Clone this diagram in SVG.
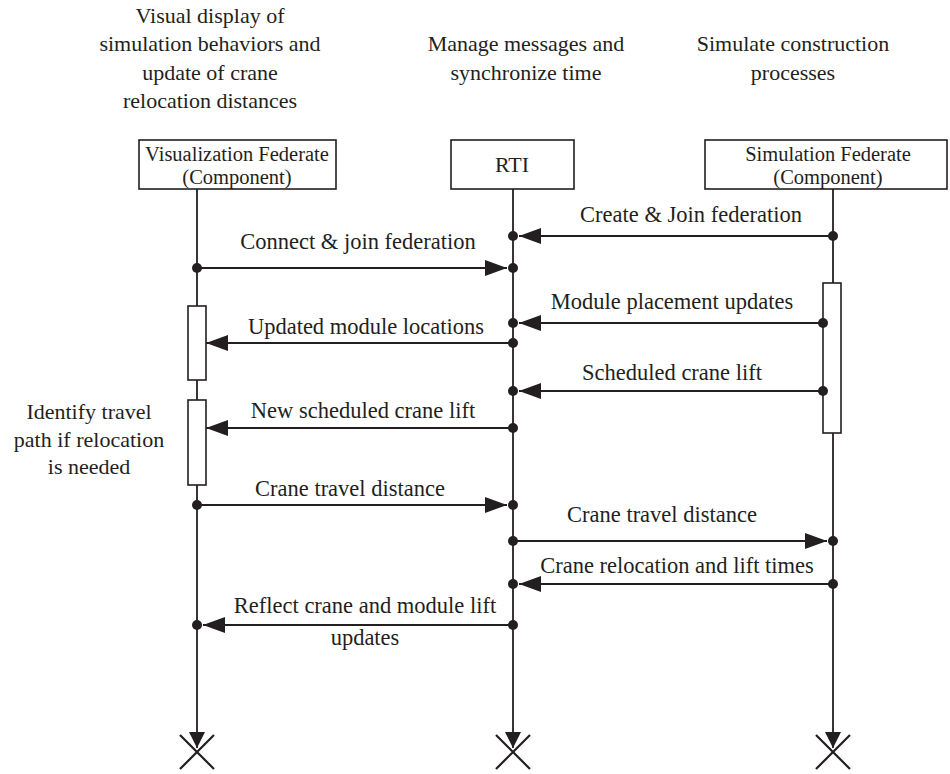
<svg xmlns="http://www.w3.org/2000/svg" width="950" height="774" viewBox="0 0 950 774">
  <style>
    text { font-family: "Liberation Serif", "Times New Roman", serif; font-size: 22px; fill: #231f20; text-anchor: middle; }
    .lbl { font-size: 22.5px; }
    .boxtxt { font-size: 20.5px; }
    .box { fill: #ffffff; stroke: #231f20; stroke-width: 1.6; }
    .life { stroke: #231f20; stroke-width: 1.8; fill: none; }
    .msg { stroke: #231f20; stroke-width: 1.8; fill: none; marker-end: url(#arrow); }
    .dot { fill: #231f20; }
    .end { stroke: #231f20; stroke-width: 2.2; fill: none; }
  </style>
  <defs>
    <marker id="arrow" markerUnits="userSpaceOnUse" markerWidth="22" markerHeight="16" refX="22" refY="8" orient="auto">
      <path d="M0,0 L22,8 L0,16 z" fill="#231f20"/>
    </marker>
    <marker id="endArrow" markerUnits="userSpaceOnUse" markerWidth="16" markerHeight="16" refX="16" refY="8" orient="auto">
      <path d="M0,0 L16,8 L0,16 z" fill="#231f20"/>
    </marker>
  </defs>

  <rect width="950" height="774" fill="#ffffff"/>

  <!-- role descriptions above each participant -->
  <g id="role-labels">
    <text x="210" y="23">Visual display of</text>
    <text x="210" y="51">simulation behaviors and</text>
    <text x="210" y="80">update of crane</text>
    <text x="210" y="108">relocation distances</text>
    <text x="526" y="51">Manage messages and</text>
    <text x="526" y="80">synchronize time</text>
    <text x="793" y="51">Simulate construction</text>
    <text x="793" y="80">processes</text>
  </g>

  <!-- lifelines with terminating arrow and cross -->
  <g id="lifelines">
    <line class="life" x1="197" y1="189" x2="197" y2="748" marker-end="url(#endArrow)"/>
    <line class="life" x1="513" y1="189" x2="513" y2="748" marker-end="url(#endArrow)"/>
    <line class="life" x1="833" y1="189" x2="833" y2="748" marker-end="url(#endArrow)"/>
    <path class="end" d="M180,735 L214,769 M214,735 L180,769"/>
    <path class="end" d="M496,735 L530,769 M530,735 L496,769"/>
    <path class="end" d="M816,735 L850,769 M850,735 L816,769"/>
  </g>

  <g id="visualization-federate">
    <rect class="box" x="139" y="140" width="197" height="49"/>
    <text class="boxtxt" x="237" y="161">Visualization Federate</text>
    <text class="boxtxt" x="237" y="184">(Component)</text>
    <rect class="box" x="188" y="306" width="18" height="74"/>
    <rect class="box" x="188" y="400" width="18" height="85"/>
  </g>

  <g id="rti">
    <rect class="box" x="451" y="140" width="123" height="49"/>
    <text x="512" y="172">RTI</text>
  </g>

  <g id="simulation-federate">
    <rect class="box" x="705" y="140" width="242" height="49"/>
    <text class="boxtxt" x="828" y="161">Simulation Federate</text>
    <text class="boxtxt" x="828" y="184">(Component)</text>
    <rect class="box" x="823" y="283" width="18" height="150"/>
  </g>

  <g id="activity-note">
    <text x="89" y="419">Identify travel</text>
    <text x="89" y="447">path if relocation</text>
    <text x="89" y="474">is needed</text>
  </g>

  <!-- messages -->
  <g id="connectors">
    <line class="msg" x1="833" y1="236" x2="519" y2="236"/>
    <line class="msg" x1="197" y1="268" x2="507" y2="268"/>
    <line class="msg" x1="823" y1="323" x2="519" y2="323"/>
    <line class="msg" x1="513" y1="343" x2="206" y2="343"/>
    <line class="msg" x1="823" y1="391" x2="519" y2="391"/>
    <line class="msg" x1="513" y1="428" x2="206" y2="428"/>
    <line class="msg" x1="197" y1="505" x2="507" y2="505"/>
    <line class="msg" x1="513" y1="541" x2="827" y2="541"/>
    <line class="msg" x1="833" y1="584" x2="519" y2="584"/>
    <line class="msg" x1="513" y1="625" x2="203" y2="625"/>

    <circle class="dot" cx="833" cy="236" r="5"/>
    <circle class="dot" cx="513" cy="236" r="5"/>
    <circle class="dot" cx="197" cy="268" r="5"/>
    <circle class="dot" cx="513" cy="268" r="5"/>
    <circle class="dot" cx="823" cy="323" r="5"/>
    <circle class="dot" cx="513" cy="323" r="5"/>
    <circle class="dot" cx="513" cy="343" r="5"/>
    <circle class="dot" cx="823" cy="391" r="5"/>
    <circle class="dot" cx="513" cy="391" r="5"/>
    <circle class="dot" cx="513" cy="428" r="5"/>
    <circle class="dot" cx="197" cy="505" r="5"/>
    <circle class="dot" cx="513" cy="505" r="5"/>
    <circle class="dot" cx="513" cy="541" r="5"/>
    <circle class="dot" cx="833" cy="541" r="5"/>
    <circle class="dot" cx="833" cy="584" r="5"/>
    <circle class="dot" cx="513" cy="584" r="5"/>
    <circle class="dot" cx="513" cy="625" r="5"/>
    <circle class="dot" cx="197" cy="625" r="5"/>

    <text class="lbl" x="691" y="222">Create &amp; Join federation</text>
    <text class="lbl" x="358" y="249">Connect &amp; join federation</text>
    <text class="lbl" x="672" y="309">Module placement updates</text>
    <text class="lbl" x="366" y="334">Updated module locations</text>
    <text class="lbl" x="672" y="380">Scheduled crane lift</text>
    <text class="lbl" x="363" y="418">New scheduled crane lift</text>
    <text class="lbl" x="350" y="496">Crane travel distance</text>
    <text class="lbl" x="662" y="522">Crane travel distance</text>
    <text class="lbl" x="677" y="573">Crane relocation and lift times</text>
    <text class="lbl" x="365" y="613">Reflect crane and module lift</text>
    <text class="lbl" x="365" y="645">updates</text>
  </g>
</svg>
